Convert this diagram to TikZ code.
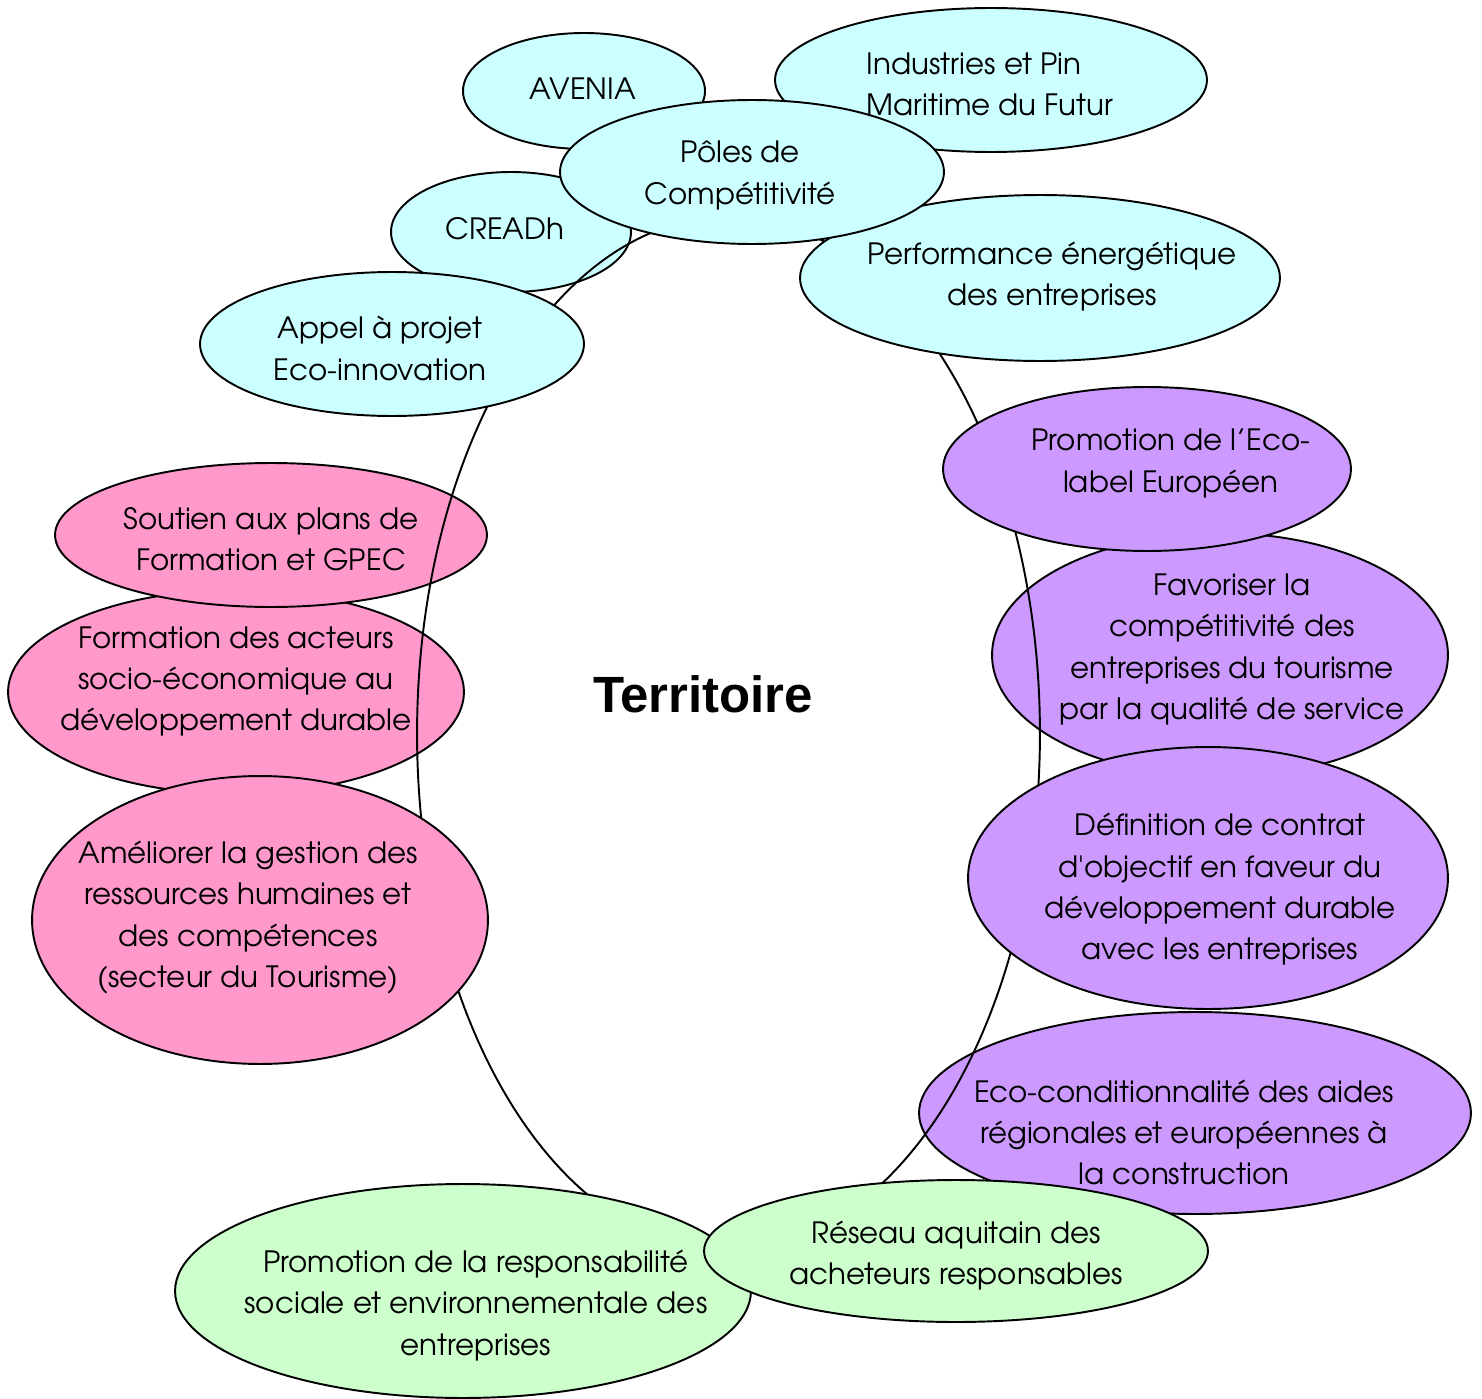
\documentclass[tikz,border=0pt]{standalone}
\usepackage{fontspec}
\usetikzlibrary{shapes.geometric}
\newfontfamily\advfont{TeX Gyre Adventor}
\newfontfamily\titlefont{Liberation Sans}
\definecolor{cC}{HTML}{CCFFFF}
\definecolor{cP}{HTML}{FF99CC}
\definecolor{cV}{HTML}{CC99FF}
\definecolor{cG}{HTML}{CCFFCC}
\tikzset{myblob/.style={
  shape=ellipse,
  draw=black,
  line width=1.1pt,
  inner sep=0pt,
  }
}
\tikzset{myblobC/.style={myblob, fill=cC}}
\tikzset{myblobP/.style={myblob, fill=cP}}
\tikzset{myblobV/.style={myblob, fill=cV}}
\tikzset{myblobG/.style={myblob, fill=cG}}
\tikzset{mytext/.style={
  font=\advfont\fontsize{16.7}{23.5}\selectfont,
  align=center,
  inner sep=0pt,
  yshift=-0.05cm,
  text=black,
  }
}
\begin{document}
\begin{tikzpicture}[x=0.02cm, y=-0.02cm]
  \useasboundingbox (0,0) rectangle (1482,1399);

  % satellites
  \node [myblobC, minimum width=4.84cm, minimum height=2.32cm] (avenia) at (584,91) {};
  \node [mytext] (avenia-t) at (583,86) {AVENIA};
  \node [myblobC, minimum width=8.64cm, minimum height=2.88cm] (pin) at (991,80) {};
  \node [mytext, align=left] (pin-t) at (990,82) {Industries et Pin\\Maritime du Futur};
  \node [myblobC, minimum width=4.8cm, minimum height=2.4cm] (creadh) at (511,232) {};
  \node [mytext] (creadh-t) at (505,226) {CREADh};
  \node [myblobP, minimum width=9.12cm, minimum height=4.08cm] (acteurs) at (236,692) {};
  \node [mytext] (acteurs-t) at (236,679) {Formation des acteurs\\socio-économique au\\développement durable};
  \node [myblobP, minimum width=8.64cm, minimum height=2.88cm] (gpec) at (271,535) {};
  \node [mytext] (gpec-t) at (271,537) {Soutien aux plans de\\Formation et GPEC};
  \node [myblobV, minimum width=9.12cm, minimum height=4.88cm] (tourisme) at (1220,655) {};
  \node [mytext] (tourisme-t) at (1232,647) {Favoriser la\\compétitivité des\\entreprises du tourisme\\par la qualité de service};
  \node [myblobV, minimum width=11.04cm, minimum height=4.04cm] (aides) at (1195,1113) {};
  \node [mytext] (aides-t) at (1184,1130) {Eco-conditionnalité des aides\\régionales et européennes à\\la construction};

  % ring
  \coordinate (ringc) at (728.5,733.6);
  \draw [line width=1.1pt] (ringc) ellipse [x radius=6.23cm, y radius=10.34cm];

  % main nodes on the ring
  \node [myblobC, minimum width=9.6cm, minimum height=3.32cm] (energie) at (1040,278) {};
  \node [mytext] (energie-t) at (1052,274) {Performance énergétique\\des entreprises};
  \node [myblobC, minimum width=7.68cm, minimum height=2.88cm] (poles) at (752,172) {};
  \node [mytext] (poles-t) at (740,173) {Pôles de\\Compétitivité};
  \node [myblobC, minimum width=7.68cm, minimum height=2.88cm] (appel) at (392,344) {};
  \node [mytext] (appel-t) at (380,346) {Appel à projet\\Eco-innovation};
  \node [myblobV, minimum width=8.16cm, minimum height=3.28cm] (ecolabel) at (1147,469) {};
  \node [mytext] (ecolabel-t) at (1171,461) {Promotion de l’Eco-\\label Européen};
  \node [myblobV, minimum width=9.6cm, minimum height=5.24cm] (contrat) at (1208,878) {};
  \node [mytext] (contrat-t) at (1220,887) {Définition de contrat\\d\textquotesingle objectif en faveur du\\développement durable\\avec les entreprises};
  \node [myblobP, minimum width=9.12cm, minimum height=5.76cm] (rh) at (260,920) {};
  \node [mytext] (rh-t) at (248,915) {Améliorer la gestion des\\ressources humaines et\\des compétences\\(secteur du Tourisme)};
  \node [myblobG, minimum width=11.52cm, minimum height=4.28cm] (rse) at (463,1291) {};
  \node [mytext] (rse-t) at (476,1303) {Promotion de la responsabilité\\sociale et environnementale des\\entreprises};
  \node [myblobG, minimum width=10.08cm, minimum height=2.84cm] (acheteurs) at (956,1251) {};
  \node [mytext] (acheteurs-t) at (956,1253) {Réseau aquitain des\\acheteurs responsables};

  \node [font=\titlefont\bfseries\fontsize{29}{34}\selectfont] (territoire) at (703,694) {Territoire};
\end{tikzpicture}
\end{document}
